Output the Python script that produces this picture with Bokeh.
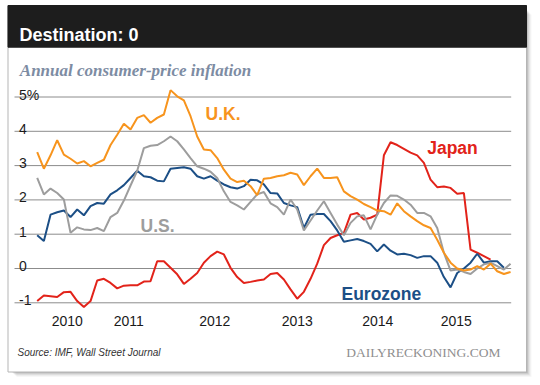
from bokeh.plotting import figure
from bokeh.models import Range1d, Label
from bokeh.core.properties import value
from bokeh.embed import file_html
from bokeh.resources import INLINE

nan = float("nan")

# ---- data (monthly, index 0 = first month shown, roughly Oct 2009) ----
months = list(range(72))
uk = [3.39, 2.91, 3.3, 3.74, 3.32, 3.2, 3.06, 3.13, 2.98, 3.08,
      3.17, 3.6, 3.9, 4.22, 4.05, 4.39, 4.47, 4.25, 4.39, 4.49,
      5.2, 5.02, 4.9, 4.44, 3.85, 3.47, 3.45, 3.22, 2.88, 2.62,
      2.52, 2.56, 2.4, 2.14, 2.62, 2.64, 2.69, 2.72, 2.79, 2.74,
      2.43, 2.69, 2.91, 2.64, 2.64, 2.66, 2.25, 2.11, 2.01, 1.88,
      1.79, 1.69, 1.67, 1.57, 1.9, 1.67, 1.52, 1.38, 1.26, 1.18,
      0.84, 0.46, 0.17, 0.0, -0.06, -0.03, 0.07, -0.03, 0.14, -0.08,
      -0.16, -0.1]
us = [2.64, 2.16, 2.33, 2.2, 2.01, 1.04, 1.2, 1.14, 1.12, 1.18,
      1.09, 1.5, 1.62, 1.98, 2.42, 2.85, 3.51, 3.58, 3.6, 3.71,
      3.85, 3.71, 3.47, 3.22, 2.98, 2.91, 2.82, 2.64, 2.25, 1.94,
      1.84, 1.72, 1.94, 2.16, 2.23, 1.9, 1.79, 1.57, 2.01, 1.72,
      1.11, 1.4, 1.69, 1.96, 1.62, 1.28, 0.97, 1.33, 1.52, 1.55,
      1.14, 1.57, 1.91, 2.13, 2.12, 2.01, 1.86, 1.62, 1.62, 1.52,
      1.18, 0.46, -0.06, -0.03, -0.1, -0.16, 0.0, 0.12, 0.17, 0.07,
      -0.03, 0.14]
eurozone = [0.97, 0.8, 1.57, 1.64, 1.69, 1.5, 1.72, 1.55, 1.82, 1.91,
            1.89, 2.16, 2.28, 2.43, 2.64, 2.85, 2.69, 2.66, 2.56, 2.54,
            2.91, 2.93, 2.95, 2.91, 2.69, 2.62, 2.69, 2.56, 2.45, 2.37,
            2.33, 2.4, 2.59, 2.57, 2.45, 2.2, 2.19, 1.91, 1.84, 1.79,
            1.18, 1.57, 1.59, 1.59, 1.38, 1.11, 0.78, 0.82, 0.86, 0.8,
            0.72, 0.5, 0.7, 0.52, 0.41, 0.43, 0.39, 0.31, 0.36, 0.36,
            0.17, -0.25, -0.55, -0.13, 0.0, 0.17, 0.43, 0.17, 0.21, 0.21,
            0.02, nan]
japan = [-0.95, -0.79, -0.81, -0.83, -0.69, -0.68, -0.95, -1.12, -0.95, -0.35,
         -0.3, -0.42, -0.58, -0.5, -0.49, -0.49, -0.38, -0.37, 0.21, 0.21,
         0.02, -0.17, -0.45, -0.3, -0.13, 0.17, 0.36, 0.49, 0.41, 0.02,
         -0.25, -0.42, -0.39, -0.35, -0.32, -0.16, -0.13, -0.32, -0.61, -0.88,
         -0.68, -0.3, 0.14, 0.68, 0.89, 0.97, 1.04, 1.57, 1.62, 1.43,
         1.48, 1.57, 3.3, 3.68, 3.6, 3.49, 3.38, 3.3, 3.08, 2.59,
         2.37, 2.39, 2.35, 2.18, 2.2, 0.55, 0.46, 0.36, 0.26, nan,
         nan, nan]

y_ticks = [-1, 0, 1, 2, 3, 4, 5]
y_tick_labels = ["-1", "0", "1", "2", "3", "4", "5%"]
year_labels = ["2010", "2011", "2012", "2013", "2014", "2015"]
year_label_pos = [4.5, 13.74, 26.64, 39.01, 51.09, 62.85]

# ---- layout (canvas px) ----
W, H = 532, 377
X0_PX, DX = 36.7, 6.667     # canvas x of month 0, px per month
Y0_PX, DY = 268.0, 34.3     # canvas y of value 0, px per unit


def px2x(cx):
    return (cx - X0_PX) / DX


def px2y(cy):
    return (Y0_PX - cy) / DY


p = figure(width=W, height=H, output_backend="svg", toolbar_location=None,
           x_axis_type=None, y_axis_type=None,
           x_range=Range1d(px2x(0), px2x(W)), y_range=Range1d(px2y(H), px2y(0)),
           min_border=0, min_border_left=0, min_border_right=0,
           min_border_top=0, min_border_bottom=0)
p.outline_line_color = None
p.background_fill_color = "white"
p.border_fill_color = "white"

# shadow
for k, a in enumerate([0.10, 0.08, 0.06, 0.04, 0.03]):
    off = k + 1
    p.quad(left=[px2x(11 + off)], right=[px2x(526 + off)],
           top=[px2y(9 + off)], bottom=[px2y(371.5 + off)],
           fill_color="black", fill_alpha=a, line_color=None)

# white box
p.quad(left=[px2x(7.5)], right=[px2x(526)], top=[px2y(5)], bottom=[px2y(371.5)],
       fill_color="white", line_color="#b5b5b5", line_width=1)
# header
p.quad(left=[px2x(7.5)], right=[px2x(526)], top=[px2y(5)], bottom=[px2y(46.7)],
       fill_color="#1d1d1d", line_color="#1d1d1d")

p.add_layout(Label(x=px2x(19), y=px2y(34.8), text="Destination: 0",
                   text_color="white", text_font="Liberation Sans",
                   text_font_style="bold", text_font_size="18px",
                   text_baseline="alphabetic"))
p.add_layout(Label(x=px2x(19.3), y=px2y(70), text="Annual consumer-price inflation",
                   text_color="#7d8ca3", text_font="Liberation Serif",
                   text_font_style="bold italic", text_font_size="17px",
                   text_baseline="alphabetic"))

# gridlines
p.segment(x0=[px2x(14)] * len(y_ticks), x1=[px2x(510.7)] * len(y_ticks),
          y0=y_ticks, y1=y_ticks, line_color="#8c8c8c", line_width=1)

# y tick labels (above gridlines)
p.text(x=[px2x(18.5)] * len(y_ticks), y=y_ticks, text=y_tick_labels,
       y_offset=-2.5, text_align="left", text_baseline="alphabetic",
       text_font=value("Liberation Sans"), text_font_size="14px",
       text_color="#1a1a1a")

# year labels
p.text(x=year_label_pos, y=[px2y(320.7)] * len(year_labels), text=year_labels,
       text_align="center", text_baseline="alphabetic",
       text_font=value("Liberation Sans"), text_font_size="14px",
       text_color="#1a1a1a")

C_UK, C_US, C_EZ, C_JP = "#f7941d", "#9d9d9d", "#1c4f86", "#e2231a"

p.line(months, japan, line_color=C_JP, line_width=2)
p.line(months, eurozone, line_color=C_EZ, line_width=2)
p.line(months, us, line_color=C_US, line_width=2)
p.line(months, uk, line_color=C_UK, line_width=2)

for txt, cx, cy, col in [("U.K.", 205, 113.3, C_UK), ("Japan", 426.7, 147.7, C_JP),
                         ("U.S.", 140, 225, C_US), ("Eurozone", 341, 293.3, C_EZ)]:
    p.add_layout(Label(x=px2x(cx), y=px2y(cy), text=txt, text_color=col,
                       text_font="Liberation Sans", text_font_style="bold",
                       text_font_size="17.5px", text_baseline="alphabetic"))

p.add_layout(Label(x=px2x(17), y=px2y(352.3), text="Source: IMF, Wall Street Journal",
                   text_color="#333333", text_font="Liberation Sans",
                   text_font_style="italic", text_font_size="10px",
                   text_baseline="alphabetic"))
p.add_layout(Label(x=px2x(345.7), y=px2y(352), text="DAILYRECKONING.COM",
                   text_color="#8f8f8f", text_font="Liberation Serif",
                   text_font_size="13.5px", text_baseline="alphabetic"))

open("out.html", "w").write(file_html(p, INLINE))
